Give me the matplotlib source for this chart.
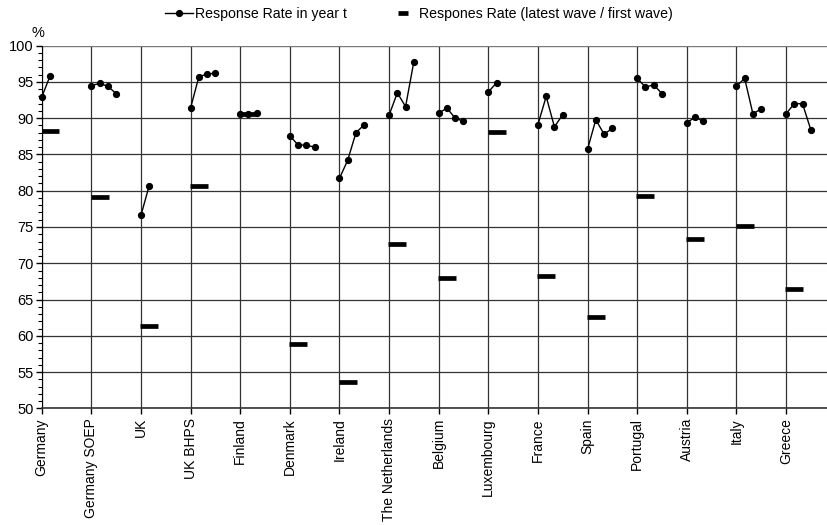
import matplotlib
matplotlib.use("Agg")
import matplotlib.pyplot as plt
from matplotlib.lines import Line2D
from matplotlib.ticker import MultipleLocator

plt.rcParams['font.family'] = ['Liberation Sans', 'DejaVu Sans']

countries = ["Germany", "Germany SOEP", "UK", "UK BHPS", "Finland", "Denmark",
             "Ireland", "The Netherlands", "Belgium", "Luxembourg", "France",
             "Spain", "Portugal", "Austria", "Italy", "Greece"]

rate_germany = [92.9, 95.8]
rate_germany_soep = [94.5, 94.8, 94.4, 93.4]
rate_uk = [76.6, 80.7]
rate_uk_bhps = [91.4, 95.7, 96.1, 96.2]
rate_finland = [90.6, 90.6, 90.7]
rate_denmark = [87.6, 86.3, 86.3, 86.0]
rate_ireland = [81.7, 84.2, 88.0, 89.1]
rate_netherlands = [90.4, 93.5, 91.6, 97.8]
rate_belgium = [90.7, 91.4, 90.0, 89.6]
rate_luxembourg = [93.6, 94.9]
rate_france = [89.1, 93.0, 88.8, 90.5]
rate_spain = [85.7, 89.8, 87.8, 88.6]
rate_portugal = [95.5, 94.3, 94.6, 93.4]
rate_austria = [89.4, 90.1, 89.6]
rate_italy = [94.4, 95.5, 90.6, 91.3]
rate_greece = [90.6, 92.0, 92.0, 88.4]

yearly_rates = [rate_germany, rate_germany_soep, rate_uk, rate_uk_bhps, rate_finland,
                rate_denmark, rate_ireland, rate_netherlands, rate_belgium,
                rate_luxembourg, rate_france, rate_spain, rate_portugal,
                rate_austria, rate_italy, rate_greece]

latest_first = [88.2, 79.1, 61.4, 80.7, 90.6, 58.9, 53.6, 72.7, 68.0, 88.1,
                68.3, 62.6, 79.3, 73.3, 75.2, 66.5]

slots = 6  # category slots per country block

fig = plt.figure(figsize=(8.28, 5.25), dpi=100)
ax = fig.add_axes([41.7 / 828, 1 - 408.3 / 525, 1 - 41.7 / 828, (408.3 - 45.7) / 525])

for i, vals in enumerate(yearly_rates):
    xs = [i * slots + k for k in range(len(vals))]
    ax.plot(xs, vals, color='black', lw=1.0, marker='o', ms=4.2, zorder=4,
            clip_on=False)

dash_x = [i * slots + 1 for i in range(len(countries))]
ax.plot(dash_x, latest_first, ls='none', marker='_', ms=12.5, mew=3.4,
        color='black', zorder=5, solid_capstyle='butt')

ax.set_ylim(50, 100)
ax.set_xlim(0, (828 - 41.7) / 8.27)
ax.yaxis.set_major_locator(MultipleLocator(5))
ax.yaxis.set_minor_locator(MultipleLocator(1))
ax.set_xticks([i * slots for i in range(len(countries))])
ax.set_xticklabels(countries, rotation=90, va='top', ha='center', fontsize=10)
ax.tick_params(axis='y', which='major', length=4, width=1, labelsize=10.5, pad=2)
ax.tick_params(axis='y', which='minor', length=3, width=0.8)
ax.tick_params(axis='x', which='major', length=4, width=1, pad=3)

ax.grid(True, which='major', axis='both', color='#333333', lw=0.9)
ax.set_axisbelow(True)
for s in ['top', 'right']:
    ax.spines[s].set_visible(False)
ax.spines['left'].set_color('black')
ax.spines['bottom'].set_color('#333333')
ax.spines['bottom'].set_linewidth(1.2)
ax.axhline(100, color='#888888', lw=1.2, zorder=1)

fig.text(37.5 / 828, 1 - 33 / 525, '%', fontsize=10.5, ha='center', va='center')

h1 = Line2D([], [], color='black', lw=1.0, marker='o', ms=4.2)
h2 = Line2D([], [], color='black', ls='none', marker='_', ms=7.2, mew=3.4)
fig.legend([h1, h2], ["Response Rate in year t",
                      "Respones Rate (latest wave / first wave)"],
           loc='center left', bbox_to_anchor=(165 / 828, 1 - 14 / 525), ncol=2,
           frameon=False, fontsize=10.2, handlelength=2.0, handletextpad=0.1,
           columnspacing=3.0, borderpad=0, borderaxespad=0)

fig.savefig('out.png', dpi=100)
